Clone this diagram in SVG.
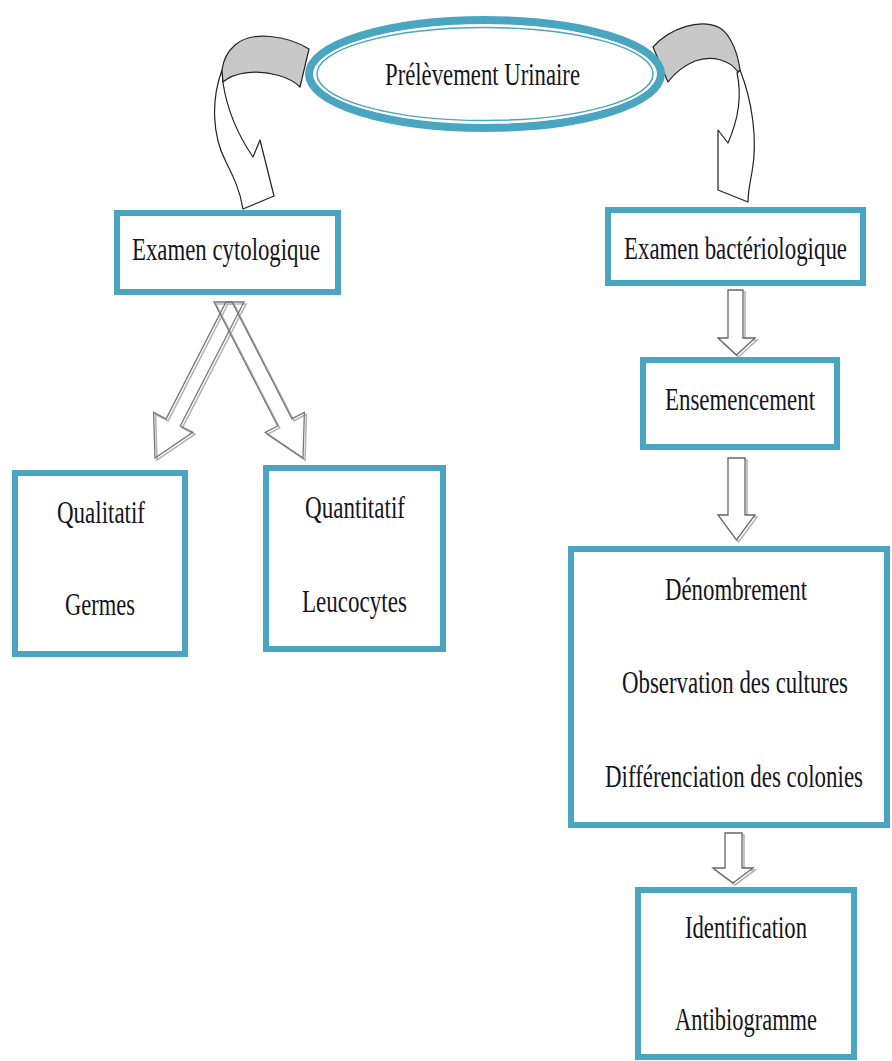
<svg xmlns="http://www.w3.org/2000/svg" width="892" height="1061" viewBox="0 0 892 1061">
<style>
.box{fill:#fff;stroke:#4AA6C0;stroke-width:6}
.t{font-family:"Liberation Serif","Times New Roman",serif;font-size:23px;fill:#141420}
.band{fill:#c8c8c8;stroke:#222;stroke-width:1.2;stroke-linejoin:round}
.shaft{fill:#fff;stroke:#222;stroke-width:1.2;stroke-linejoin:round}
.blk{fill:#fff;stroke:#666;stroke-width:1.3;stroke-linejoin:miter}
.shd{fill:none;stroke:#b5b5b5;stroke-width:1.6}
.dia{fill:none;stroke:#777;stroke-width:1.3}
</style>
<rect width="892" height="1061" fill="#fff"/>
<g id="connectors">
  <g id="curved-left">
    <path class="shaft" d="M222,70 C211,100 212,135 226,162 C233,176 240,190 243,209 L274,196 L260,140 L253,157 C240,138 228,115 223,83 Z"/>
    <path class="band" d="M309,49 C288,36 252,30 235,45 C227,52 223,62 222,70 L223,82 C233,73 255,69 277,75 C288,78 296,83 300,87 Z"/>
  </g>
  <g id="curved-right">
    <path class="shaft" d="M740,70 C752,100 758,140 752,172 C750,183 748,192 748,202 L718,190 L718,130 L728,143 C738,120 742,95 737,73 Z"/>
    <path class="band" d="M653,47 C670,28 700,18 720,28 C732,36 738,55 740,70 L738,72 C730,60 712,55 695,61 C683,66 674,74 668,82 Z"/>
  </g>
  <g id="diag-arrows">
    <polygon class="shd" transform="translate(2,2)" points="214,302 232,302 291.9,418.8 304.4,412.4 303,458 265.2,432.4 277.7,426"/>
    <polygon class="shd" transform="translate(2,2)" points="244,302 226,302 166.1,418.8 153.6,412.4 155,458 192.8,432.4 180.3,426"/>
    <polygon class="dia" points="214,302 232,302 291.9,418.8 304.4,412.4 303,458 265.2,432.4 277.7,426"/>
    <polygon class="dia" points="244,302 226,302 166.1,418.8 153.6,412.4 155,458 192.8,432.4 180.3,426"/>
  </g>
  <g id="down-arrows">
    <polygon class="shd" transform="translate(2,2)" points="728,290 743,290 743,338 755,338 736.5,355 718,338 728,338"/>
    <polygon class="blk" points="728,290 743,290 743,338 755,338 736.5,355 718,338 728,338"/>
    <polygon class="shd" transform="translate(2,2)" points="728,458 745,458 745,515 755,515 736.5,540 718,515 728,515"/>
    <polygon class="blk" points="728,458 745,458 745,515 755,515 736.5,540 718,515 728,515"/>
    <polygon class="shd" transform="translate(2,2)" points="725,833 742,833 742,868 753,868 733,883 713,868 725,868"/>
    <polygon class="blk" points="725,833 742,833 742,868 753,868 733,883 713,868 725,868"/>
  </g>
</g>
<g id="node-prelevement">
  <ellipse cx="485" cy="74" rx="176" ry="54" fill="#fff" stroke="#4AA6C0" stroke-width="8"/>
  <ellipse cx="485" cy="74" rx="170.5" ry="48.5" fill="none" stroke="#fff" stroke-width="1.5"/>
  <ellipse cx="485" cy="74" rx="168" ry="46.5" fill="none" stroke="#4AA6C0" stroke-width="1.5"/>
  <text class="t" transform="translate(385,85) scale(1,1.35)" font-size="24.5" textLength="195" lengthAdjust="spacingAndGlyphs">Prélèvement Urinaire</text>
</g>
<g id="node-cytologique">
  <rect class="box" x="117" y="213" width="221" height="79"/>
  <text class="t" transform="translate(132,260) scale(1,1.35)" textLength="188" lengthAdjust="spacingAndGlyphs">Examen cytologique</text>
</g>
<g id="node-bacteriologique">
  <rect class="box" x="608" y="210" width="255" height="73"/>
  <text class="t" transform="translate(624,259) scale(1,1.35)" textLength="223" lengthAdjust="spacingAndGlyphs">Examen bactériologique</text>
</g>
<g id="node-ensemencement">
  <rect class="box" x="643" y="360" width="194" height="87"/>
  <text class="t" transform="translate(665,410) scale(1,1.35)" textLength="150" lengthAdjust="spacingAndGlyphs">Ensemencement</text>
</g>
<g id="node-qualitatif">
  <rect class="box" x="15" y="473" width="170" height="181"/>
  <text class="t" transform="translate(57,523) scale(1,1.35)" textLength="88" lengthAdjust="spacingAndGlyphs">Qualitatif</text>
  <text class="t" transform="translate(65,615) scale(1,1.35)" textLength="70" lengthAdjust="spacingAndGlyphs">Germes</text>
</g>
<g id="node-quantitatif">
  <rect class="box" x="266" y="468" width="177" height="181"/>
  <text class="t" transform="translate(305,518) scale(1,1.35)" textLength="100" lengthAdjust="spacingAndGlyphs">Quantitatif</text>
  <text class="t" transform="translate(302,612) scale(1,1.35)" textLength="105" lengthAdjust="spacingAndGlyphs">Leucocytes</text>
</g>
<g id="node-denombrement">
  <rect class="box" x="571" y="549" width="316" height="276"/>
  <text class="t" transform="translate(665,600) scale(1,1.35)" textLength="142" lengthAdjust="spacingAndGlyphs">Dénombrement</text>
  <text class="t" transform="translate(622,693) scale(1,1.35)" textLength="226" lengthAdjust="spacingAndGlyphs">Observation des cultures</text>
  <text class="t" transform="translate(605,787) scale(1,1.35)" textLength="258" lengthAdjust="spacingAndGlyphs">Différenciation des colonies</text>
</g>
<g id="node-identification">
  <rect class="box" x="638" y="890" width="216" height="167"/>
  <text class="t" transform="translate(685,938) scale(1,1.35)" textLength="122" lengthAdjust="spacingAndGlyphs">Identification</text>
  <text class="t" transform="translate(675,1030) scale(1,1.35)" textLength="142" lengthAdjust="spacingAndGlyphs">Antibiogramme</text>
</g>
</svg>
